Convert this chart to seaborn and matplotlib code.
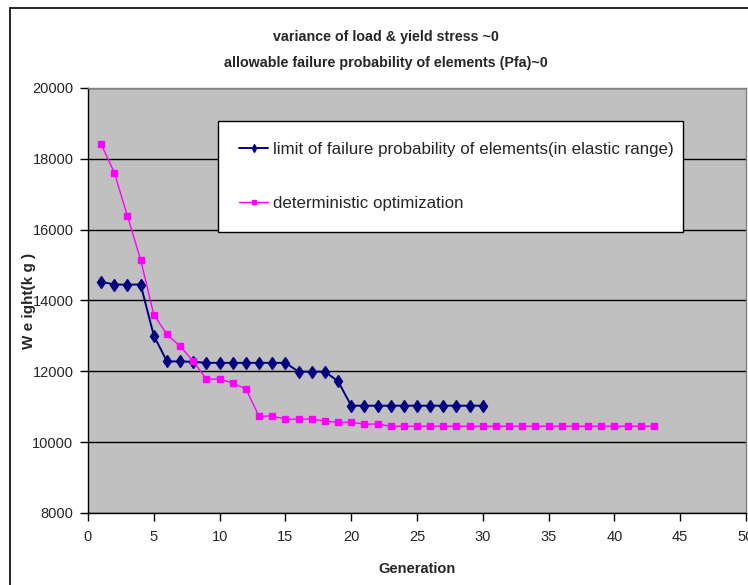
import numpy as np
import pandas as pd
import matplotlib
matplotlib.use("Agg")
import matplotlib.pyplot as plt
import seaborn as sns
from matplotlib.lines import Line2D

# --- データ ---
gen_limit = list(range(1, 31))
weight_limit = [14530, 14450, 14450, 14450, 13010, 12280, 12280, 12270, 12240, 12240,
                12240, 12240, 12240, 12240, 12240, 11990, 11990, 11990, 11720, 11030,
                11030, 11030, 11030, 11030, 11030, 11030, 11030, 11030, 11030, 11030]

gen_det = list(range(1, 44))
weight_det = [18410, 17610, 16380, 15150, 13600, 13040, 12710, 12280, 11780, 11780,
              11670, 11500, 10730, 10740, 10650, 10650, 10650, 10600, 10560, 10560,
              10510, 10510] + [10450] * 21

label_limit = "limit of failure probability of elements(in elastic range)"
label_det = "deterministic optimization"
title_lines = ["variance of load & yield stress ~0",
               "allowable failure probability of elements (Pfa)~0"]

df_limit = pd.DataFrame({"Generation": gen_limit, "Weight": weight_limit})
df_det = pd.DataFrame({"Generation": gen_det, "Weight": weight_det})

sns.set_style("white")
plt.rcParams['font.family'] = ['Liberation Sans', 'DejaVu Sans']

fig = plt.figure(figsize=(7.48, 5.85), dpi=100)
ax = fig.add_axes([88/748, 1-513/585, 658/748, 425/585])
ax.set_facecolor("#C0C0C0")

sns.lineplot(data=df_limit, x="Generation", y="Weight", ax=ax, color="#000080",
             marker="d", markersize=6, markeredgewidth=1, markeredgecolor="#000080",
             lw=1.4, label=label_limit)
sns.lineplot(data=df_det, x="Generation", y="Weight", ax=ax, color="#FF00FF",
             marker="s", markersize=4.8, markeredgewidth=1, markeredgecolor="#FF00FF",
             lw=1.0, label=label_det)

ax.set_xlim(0, 50)
ax.set_ylim(8000, 20000)
ax.set_xticks(range(0, 51, 5))
ax.set_yticks(range(8000, 20001, 2000))
ax.yaxis.grid(True, color="black", lw=1)
ax.xaxis.grid(False)
ax.set_axisbelow(True)
ax.tick_params(axis="both", direction="out", length=6, width=1, color="black",
               labelsize=10.5, bottom=True, left=True)
ax.tick_params(axis="y", pad=4.5)
ax.tick_params(axis="x", pad=6)
for s in ["left", "bottom"]:
    ax.spines[s].set_color("black")
    ax.spines[s].set_linewidth(1)
for s in ["top", "right"]:
    ax.spines[s].set_color("#808080")
    ax.spines[s].set_linewidth(1)

ax.set_xlabel("Generation", fontsize=10.5, fontweight="bold")
ax.xaxis.set_label_coords(0.5, (513-562)/425)
ax.set_ylabel("W e ight(k g )", fontsize=11, fontweight="bold")
ax.yaxis.set_label_coords((36-88)/658, 0.5)

leg = ax.legend(loc="upper left", bbox_to_anchor=(0.198, 0.822, 0.706, 0.1), mode="expand",
                fontsize=12.2, frameon=True, fancybox=False, edgecolor="black",
                facecolor="white", framealpha=1, handlelength=1.7, handletextpad=0.3,
                labelspacing=2.3, borderpad=1.25, markerscale=0.7, borderaxespad=0)
leg.get_frame().set_linewidth(1)

fig.text(386/748, 1-37/585, title_lines[0], ha="center", va="center",
         fontsize=10.3, fontweight="bold")
fig.text(386/748, 1-63/585, title_lines[1], ha="center", va="center",
         fontsize=10.3, fontweight="bold")

# 外枠
fig.add_artist(Line2D([10/748, 10/748], [0, 1-8/585], color="black", lw=1.2))
fig.add_artist(Line2D([10/748, 1], [1-8/585, 1-8/585], color="black", lw=1.2))

fig.savefig("out.png", dpi=100)
